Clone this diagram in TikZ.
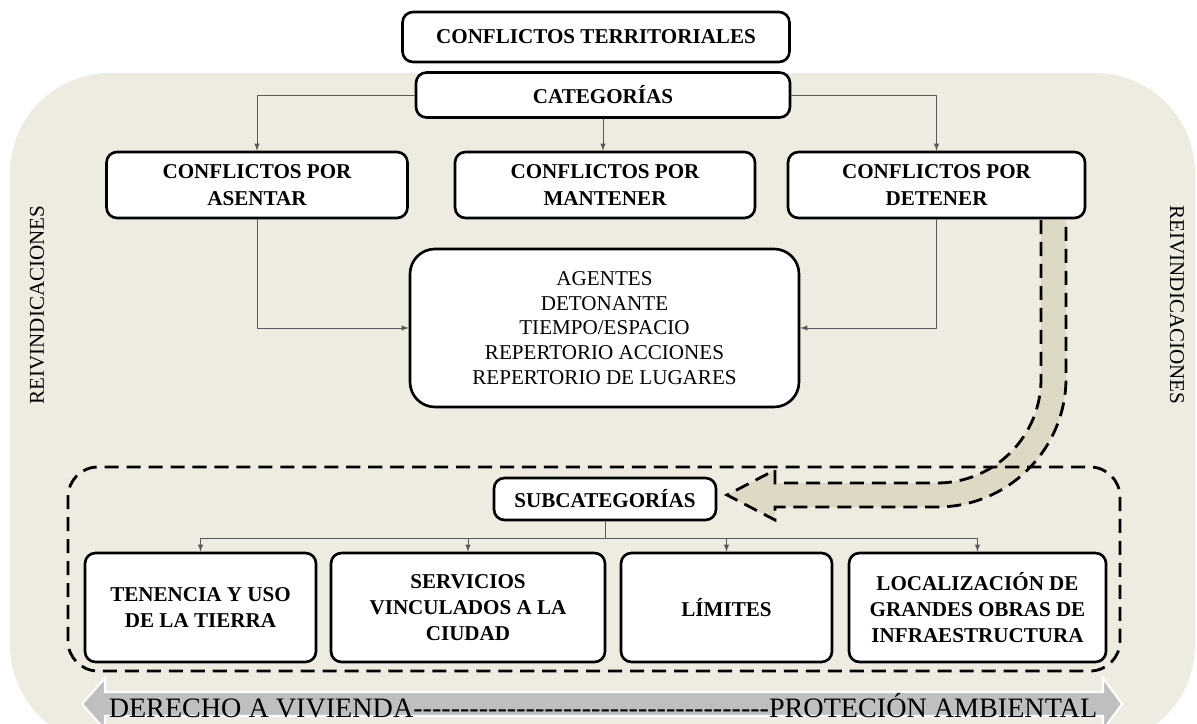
\documentclass[tikz,border=0pt]{standalone}
\usepackage{fontspec}
\setmainfont{Liberation Serif}[Ligatures=TeXOff]
\definecolor{fondo}{HTML}{EEECE1}
\definecolor{flecha}{HTML}{DDD9C4}
\definecolor{gris}{HTML}{BFBFBF}
\begin{document}
\begin{tikzpicture}[>=latex,
    caja/.style={draw, line width=1.5pt, rounded corners=6pt, fill=white, align=center, inner sep=0pt, font=\fontsize{12}{15}\selectfont\bfseries},
    linea/.style={->, draw=black!65, thin},
    punteado/.style={line width=1.6pt, dash pattern=on 8pt off 4.5pt}]
    \clip (0,0) rectangle (23.94,14.46);
    % fondo
    \fill[fondo, rounded corners=2cm] (0.2,-0.44) rectangle (23.9,13.0);

    % flecha grande hacia subcategorias
    \draw[punteado, fill=flecha] (20.82,10.06) -- (20.82,6.88) arc[start angle=0, end angle=-90, radius=2.08]
        -- (15.5,4.8) -- (15.5,5.06) -- (14.54,4.56) -- (15.5,4.06) -- (15.5,4.32) -- (18.74,4.32)
        arc[start angle=-90, end angle=0, radius=2.58] -- (21.32,10.06);
    \draw[punteado, rounded corners=0.6cm] (1.36,1.04) rectangle (22.4,5.12);

    % categorias
    \node[caja, minimum width=7.74cm, minimum height=1.0cm] (titulo) at (11.92,13.72) {CONFLICTOS TERRITORIALES};
    \node[caja, minimum width=7.48cm, minimum height=0.9cm] (cat) at (12.06,12.56) {CATEGORÍAS};
    \node[caja, minimum width=6.02cm, minimum height=1.32cm] (asentar) at (5.14,10.76) {CONFLICTOS POR\\ASENTAR};
    \node[caja, minimum width=6.0cm, minimum height=1.32cm] (mantener) at (12.1,10.76) {CONFLICTOS POR\\MANTENER};
    \node[caja, minimum width=5.94cm, minimum height=1.32cm] (detener) at (18.73,10.76) {CONFLICTOS POR\\DETENER};
    \node[caja, rounded corners=0.5cm, font=\fontsize{12}{14}\selectfont, minimum width=7.78cm, minimum height=3.16cm] (centro) at (12.09,7.9)
        {AGENTES\\DETONANTE\\TIEMPO/ESPACIO\\REPERTORIO ACCIONES\\REPERTORIO DE LUGARES};

    \draw[linea] (cat.west) -| (asentar.north);
    \draw[linea] (cat.east) -| (detener.north);
    \draw[linea] (cat.south) -- (cat.south |- mantener.north);
    \draw[linea] (asentar.south) |- (centro.west);
    \draw[linea] (detener.south) |- (centro.east);

    % subcategorias
    \node[caja, minimum width=4.44cm, minimum height=0.84cm] (subcat) at (12.1,4.48) {SUBCATEGORÍAS};
    \node[caja, minimum width=4.62cm, minimum height=2.18cm] (tenencia) at (4.01,2.31) {TENENCIA Y USO\\DE LA TIERRA};
    \node[caja, minimum width=5.48cm, minimum height=2.18cm] (servicios) at (9.36,2.31) {SERVICIOS\\VINCULADOS A LA\\CIUDAD};
    \node[caja, minimum width=4.22cm, minimum height=2.18cm] (limites) at (14.53,2.31) {LÍMITES};
    \node[caja, minimum width=5.14cm, minimum height=2.18cm] (localizacion) at (19.55,2.31) {LOCALIZACIÓN DE\\GRANDES OBRAS DE\\INFRAESTRUCTURA};

    \coordinate (rama) at ([yshift=-0.34cm]subcat.south);
    \foreach \b in {tenencia,servicios,limites,localizacion}
        \draw[linea] (subcat.south) -- (rama) -| (\b.north);

    % reivindicaciones
    \node[rotate=90, font=\fontsize{12}{12}\selectfont] (reivizq) at (0.74,8.36) {REIVINDICACIONES};
    \node[rotate=-90, font=\fontsize{12}{12}\selectfont] (reivder) at (23.54,8.36) {REIVINDICACIONES};

    % eje inferior
    \filldraw[fill=gris, draw=white, line width=1.2pt] (1.64,0.38) -- (2.1,0.9) -- (2.1,0.62) -- (22.06,0.62) -- (22.06,0.9)
        -- (22.44,0.38) -- (22.06,-0.14) -- (22.06,0.14) -- (2.1,0.14) -- (2.1,-0.14) -- cycle;
    \node[font=\fontsize{16}{16}\selectfont, inner sep=0pt] (eje) at (12.06,0.34)
        {DERECHO A VIVIENDA--------------------------------------PROTECIÓN AMBIENTAL};
\end{tikzpicture}
\end{document}
